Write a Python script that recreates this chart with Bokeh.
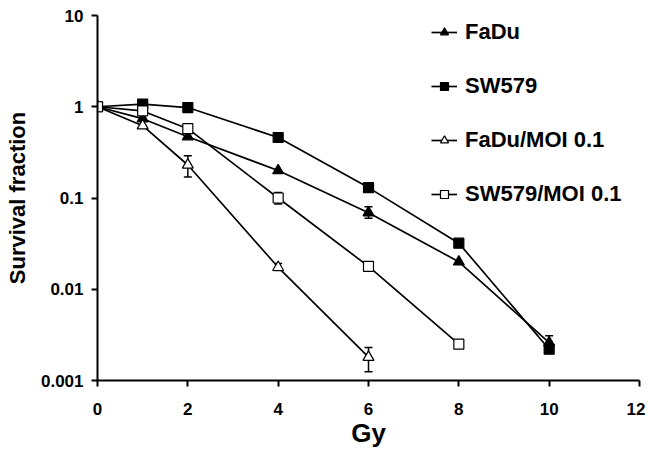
from bokeh.plotting import figure
from bokeh.models import (ColumnDataSource, Whisker, TeeHead, Legend, LegendItem,
                          FixedTicker)
from bokeh.embed import file_html
from bokeh.resources import INLINE

dose = [0, 1, 2, 4, 6, 8, 10]
fadu = [1.0, 0.74, 0.47, 0.20, 0.069, 0.020, 0.0026]
sw579 = [1.0, 1.07, 0.98, 0.46, 0.13, 0.032, 0.0022]
dose_fadu_moi = [0, 1, 2, 4, 6]
fadu_moi = [1.0, 0.62, 0.23, 0.0174, 0.0018]
dose_sw_moi = [0, 1, 2, 4, 6, 8]
sw_moi = [1.0, 0.90, 0.575, 0.10, 0.0178, 0.0025]

# error bars (dose, lower, upper)
err_fadu = ([6, 10], [0.060, 0.0022], [0.080, 0.0031])
err_sw579 = ([10], [0.0020], [0.0025])
err_fadu_moi = ([2, 4, 6], [0.17, 0.0160, 0.00125], [0.29, 0.0192, 0.0023])
err_sw_moi = ([4, 8], [0.086, 0.0023], [0.115, 0.0027])

x_ticks = [0, 2, 4, 6, 8, 10, 12]
y_ticks = [0.001, 0.01, 0.1, 1, 10]

FONT = "Liberation Sans"

p = figure(width=645, height=450, y_axis_type="log", x_range=(0, 12), y_range=(0.001, 10),
           output_backend="svg", toolbar_location=None,
           min_border_left=97, min_border_right=6, min_border_top=15, min_border_bottom=70)
p.outline_line_color = None
p.grid.grid_line_color = None
p.background_fill_color = "white"

for ax in (p.xaxis[0], p.yaxis[0]):
    ax.axis_line_width = 2
    ax.axis_line_color = "black"
    ax.major_tick_line_width = 2
    ax.major_tick_line_color = "black"
    ax.major_tick_out = 6
    ax.major_tick_in = 0
    ax.minor_tick_line_color = None
    ax.major_label_text_font = FONT
    ax.major_label_text_font_style = "bold"
    ax.major_label_text_font_size = "17px"
    ax.major_label_text_color = "black"
    ax.axis_label_text_font = FONT
    ax.axis_label_text_font_style = "bold"
    ax.axis_label_text_color = "black"

p.xaxis.ticker = FixedTicker(ticks=x_ticks)
p.yaxis.ticker = FixedTicker(ticks=y_ticks)
p.yaxis.major_label_overrides = {0.001: "0.001", 0.01: "0.01", 0.1: "0.1", 1: "1", 10: "10"}
p.xaxis.axis_label = "Gy"
p.xaxis.axis_label_text_font_size = "26px"
p.xaxis.major_label_standoff = 16
p.xaxis.axis_label_standoff = 0
p.yaxis.axis_label = "Survival fraction"
p.yaxis.axis_label_text_font_size = "22px"
p.yaxis.major_label_standoff = 8
p.yaxis.axis_label_standoff = 8

series = [
    ("FaDu", dose, fadu, "triangle", "black", err_fadu),
    ("SW579", dose, sw579, "square", "black", err_sw579),
    ("FaDu/MOI 0.1", dose_fadu_moi, fadu_moi, "triangle", "white", err_fadu_moi),
    ("SW579/MOI 0.1", dose_sw_moi, sw_moi, "square", "white", err_sw_moi),
]

items = []
line_rs = []
for name, xs, ys, mk, fill, err in series:
    lr = p.line(xs, ys, line_color="black", line_width=1.7)
    line_rs.append((name, lr, xs, ys, mk, fill, err))

for name, lr, xs, ys, mk, fill, err in line_rs:
    es = ColumnDataSource(dict(x=err[0], lo=err[1], hi=err[2]))
    p.add_layout(Whisker(source=es, base="x", lower="lo", upper="hi",
                         line_color="black", line_width=1.5,
                         upper_head=TeeHead(size=8, line_width=1.5, line_color="black"),
                         lower_head=TeeHead(size=8, line_width=1.5, line_color="black")))

for name, lr, xs, ys, mk, fill, err in line_rs:
    mr = p.scatter(xs, ys, marker=mk, size=10 if mk == "square" else 11,
                   fill_color=fill, line_color="black", line_width=1.2)
    items.append(LegendItem(label=name, renderers=[lr, mr]))

legend = Legend(items=items, location=(334, 173), padding=0, margin=0,
                spacing=28, glyph_width=26, glyph_height=20, label_height=20,
                label_standoff=8, border_line_color=None, background_fill_alpha=0,
                label_text_font=FONT, label_text_font_style="bold",
                label_text_font_size="22px", label_text_color="black")
p.add_layout(legend)

open("out.html", "w").write(file_html(p, INLINE))
